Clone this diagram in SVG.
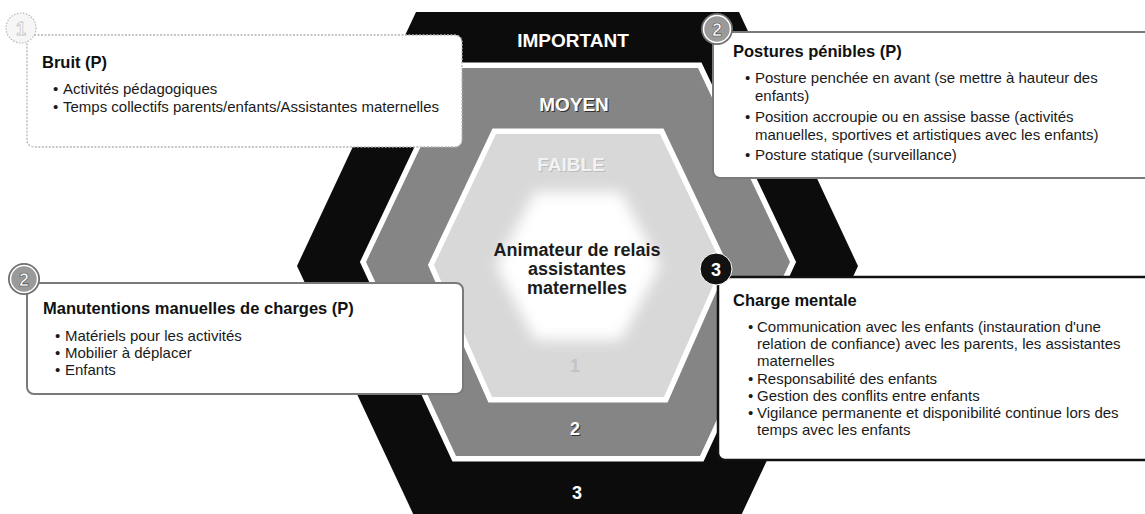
<svg xmlns="http://www.w3.org/2000/svg" width="1145" height="514" viewBox="0 0 1145 514">
  <defs>
    <filter id="soft" x="-30%" y="-30%" width="160%" height="160%">
      <feGaussianBlur stdDeviation="7"/>
    </filter>
    <style>
      .band { stroke: #ffffff; stroke-width: 11; stroke-linejoin: miter; paint-order: stroke; }
      .lvl { font-family: "Liberation Sans", Arial, sans-serif; font-weight: bold; text-anchor: middle; }
      .shade { fill: #2e2e2e; }
      .box { fill: #ffffff; }
      .title { font-family: "Liberation Sans", Arial, sans-serif; font-weight: bold; font-size: 16.5px; fill: #111111; }
      .item { font-family: "Liberation Sans", Arial, sans-serif; font-size: 15px; fill: #1a1a1a; }
      .badge-txt { font-family: "Liberation Sans", Arial, sans-serif; font-weight: bold; font-size: 18px; text-anchor: middle; }
    </style>
  </defs>

  <!-- Risk-level hexagon: three nested bands around a soft white centre -->
  <g id="hexagon">
    <polygon points="416,12 739,12 858,266 739,520 416,520 297,266" fill="#0c0c0c"/>
    <polygon class="band" points="458,68 698,68 790,262 700,456 456,456 366,262" fill="#858585"/>
    <polygon class="band" points="496,134 660,134 722,265 664,397 492,397 434,265" fill="#d8d8d8"/>
    <polygon points="535,192 621,192 660,266 621,340 535,340 496,266" fill="#ffffff" filter="url(#soft)"/>

    <text class="lvl" x="573" y="47" font-size="19" fill="#ffffff">IMPORTANT</text>
    <text class="lvl shade" x="575" y="112" font-size="19">MOYEN</text>
    <text class="lvl" x="574" y="111" font-size="19" fill="#ffffff">MOYEN</text>
    <text class="lvl" x="572" y="172" font-size="19" fill="#bcbcbc">FAIBLE</text>
    <text class="lvl" x="571" y="171" font-size="19" fill="#f2f2f2">FAIBLE</text>

    <text class="lvl" x="577" y="256" font-size="18" fill="#1c1c1c">Animateur de relais</text>
    <text class="lvl" x="577" y="275" font-size="18" fill="#1c1c1c">assistantes</text>
    <text class="lvl" x="577" y="294" font-size="18" fill="#1c1c1c">maternelles</text>

    <text class="lvl" x="575" y="372" font-size="18" fill="#c4c4c4">1</text>
    <text class="lvl shade" x="576" y="436" font-size="18">2</text>
    <text class="lvl" x="575" y="435" font-size="18" fill="#ffffff">2</text>
    <text class="lvl" x="577" y="499" font-size="18" fill="#ffffff">3</text>
  </g>

  <!-- Noise -->
  <g id="bruit">
    <rect class="box" x="27" y="35" width="435" height="112" rx="7" stroke="#b4b4b4" stroke-width="1.3" stroke-dasharray="2 1.5"/>
    <circle cx="21" cy="28" r="15" fill="#f6f6f6" stroke="#b8b8b8" stroke-width="1.2" stroke-dasharray="1.5 1.5"/>
    <text class="badge-txt" x="21" y="34.5" fill="#ffffff" stroke="#c4c4c4" stroke-width="0.8">1</text>
    <text class="title" x="42" y="68">Bruit (P)</text>
    <text class="item" x="53" y="94">•</text>
    <text class="item" x="63" y="94">Activités pédagogiques</text>
    <text class="item" x="53" y="112">•</text>
    <text class="item" x="63" y="112">Temps collectifs parents/enfants/Assistantes maternelles</text>
  </g>

  <!-- Awkward postures -->
  <g id="postures">
    <rect class="box" x="713" y="32" width="450" height="146" rx="7" stroke="#7a7a7a" stroke-width="2"/>
    <circle cx="717" cy="29" r="16" fill="#6e6e6e"/>
    <circle cx="717" cy="29" r="13.5" fill="#9a9a9a" stroke="#ffffff" stroke-width="1.5"/>
    <text class="badge-txt" x="717" y="35.5" fill="#ffffff" stroke="#4a4a4a" stroke-width="0.6">2</text>
    <text class="title" x="733" y="57">Postures pénibles (P)</text>
    <text class="item" x="745" y="83">•</text>
    <text class="item" x="755" y="83">Posture penchée en avant (se mettre à hauteur des</text>
    <text class="item" x="755" y="101">enfants)</text>
    <text class="item" x="745" y="122">•</text>
    <text class="item" x="755" y="122">Position accroupie ou en assise basse (activités</text>
    <text class="item" x="755" y="140">manuelles, sportives et artistiques  avec les enfants)</text>
    <text class="item" x="745" y="160">•</text>
    <text class="item" x="755" y="160">Posture statique (surveillance)</text>
  </g>

  <!-- Manual handling -->
  <g id="manutentions">
    <rect class="box" x="27" y="283" width="436" height="111" rx="7" stroke="#7a7a7a" stroke-width="2"/>
    <circle cx="24" cy="279" r="16" fill="#6e6e6e"/>
    <circle cx="24" cy="279" r="13.5" fill="#9a9a9a" stroke="#ffffff" stroke-width="1.5"/>
    <text class="badge-txt" x="24" y="285.5" fill="#ffffff" stroke="#4a4a4a" stroke-width="0.6">2</text>
    <text class="title" x="43" y="314">Manutentions manuelles de charges (P)</text>
    <text class="item" x="55" y="341">•</text>
    <text class="item" x="65" y="341">Matériels pour les activités</text>
    <text class="item" x="55" y="358">•</text>
    <text class="item" x="65" y="358">Mobilier à déplacer</text>
    <text class="item" x="55" y="375">•</text>
    <text class="item" x="65" y="375">Enfants</text>
  </g>

  <!-- Mental load -->
  <g id="charge-mentale">
    <rect class="box" x="718" y="277" width="445" height="183" rx="7" stroke="#111111" stroke-width="2.5"/>
    <circle cx="716" cy="269" r="16" fill="#111111" stroke="#ffffff" stroke-width="1"/>
    <text class="badge-txt" x="716" y="275.5" fill="#ffffff">3</text>
    <text class="title" x="733" y="306">Charge mentale</text>
    <text class="item" x="748" y="332">•</text>
    <text class="item" x="757" y="332">Communication avec les enfants (instauration d'une</text>
    <text class="item" x="757" y="349">relation de confiance) avec les parents, les assistantes</text>
    <text class="item" x="757" y="366">maternelles</text>
    <text class="item" x="748" y="384">•</text>
    <text class="item" x="757" y="384">Responsabilité des enfants</text>
    <text class="item" x="748" y="401">•</text>
    <text class="item" x="757" y="401">Gestion des conflits entre enfants</text>
    <text class="item" x="748" y="418">•</text>
    <text class="item" x="757" y="418">Vigilance permanente et disponibilité continue lors des</text>
    <text class="item" x="757" y="435">temps avec les enfants</text>
  </g>

  <g id="connectors"/>
</svg>
